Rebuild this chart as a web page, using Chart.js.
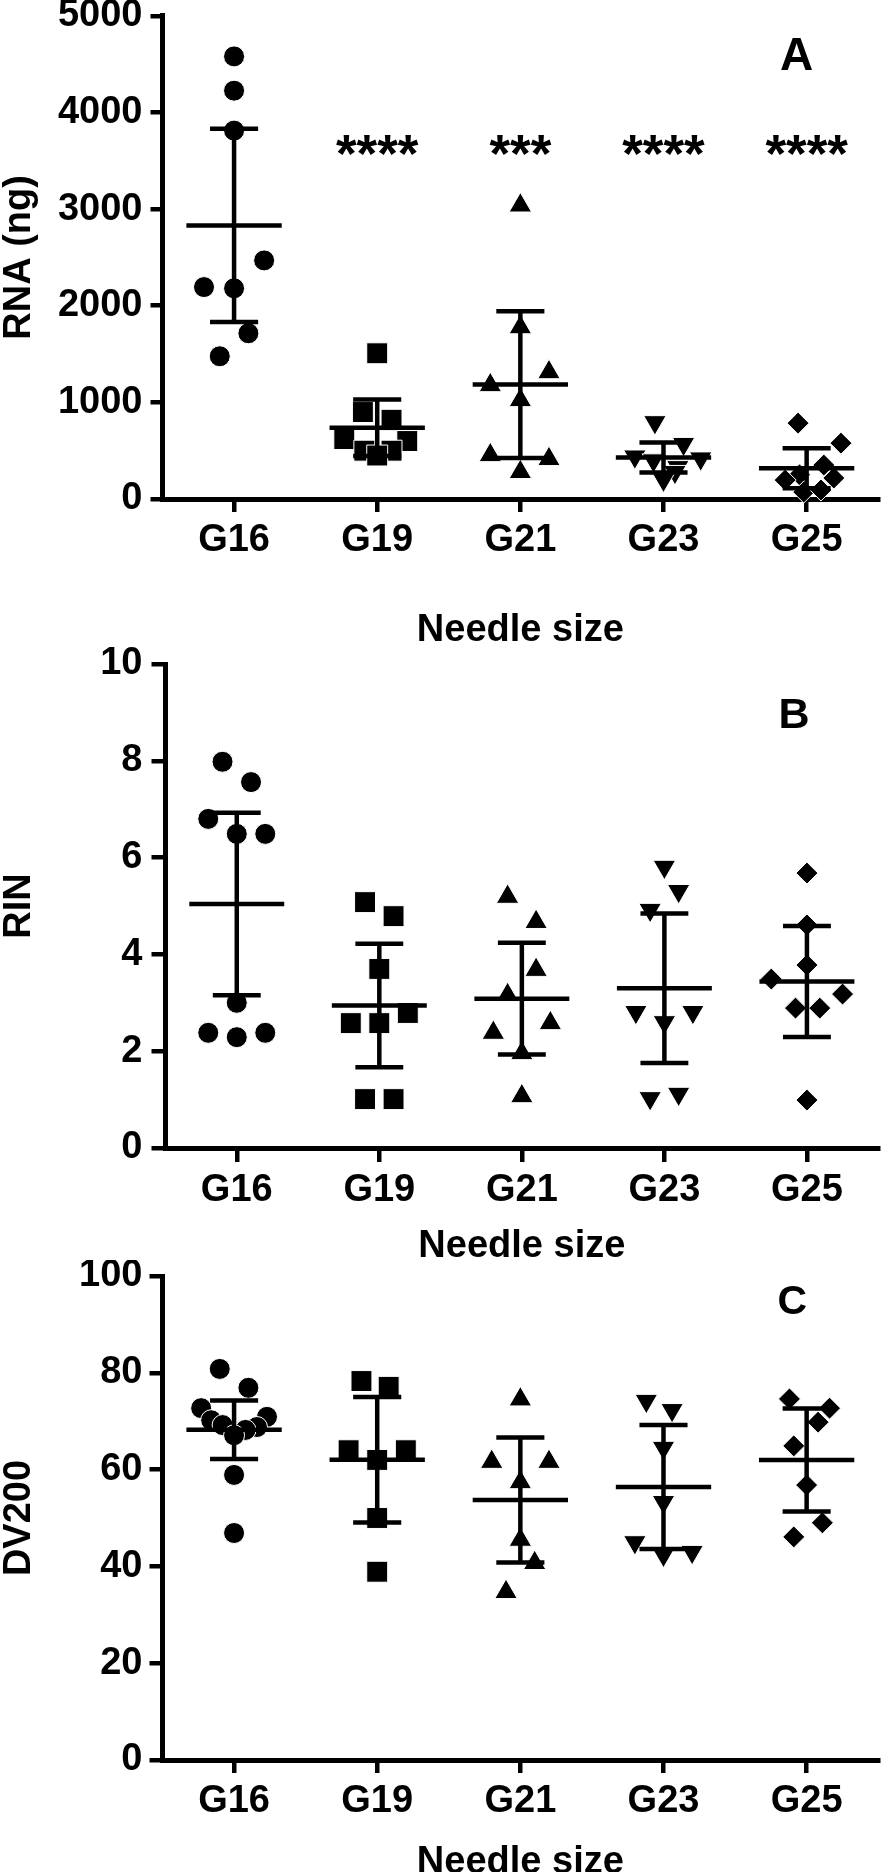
<!DOCTYPE html>
<html>
<head>
<meta charset="utf-8">
<script src="https://cdn.jsdelivr.net/npm/chart.js@4.4.1/dist/chart.umd.min.js"></script>
<style>
  html, body { margin:0; padding:0; background:#ffffff; width:894px; height:1872px; overflow:hidden; }
  .panel { position:absolute; left:0; }
</style>
</head>
<body>
<canvas id="chartA" class="panel" width="894" height="660" style="top:0px;width:894px;height:660px"></canvas>
<canvas id="chartB" class="panel" width="894" height="640" style="top:640px;width:894px;height:640px"></canvas>
<canvas id="chartC" class="panel" width="894" height="640" style="top:1260px;width:894px;height:640px"></canvas>
<script>
// ---------------- data ----------------
const categories = ['G16', 'G19', 'G21', 'G23', 'G25'];

// Panel A: RNA (ng)
const rnaG16 = [4580, 4225, 3812, 2469, 2193, 2180, 1715, 1477];
const rnaG19 = [1508, 900, 820, 620, 600, 500, 500, 450];
const rnaG21 = [3037, 1777, 1312, 1178, 1023, 454, 413, 279];
const rnaG23 = [795, 570, 440, 420, 400, 330, 280, 200];
const rnaG25 = [785, 578, 351, 250, 196, 217, 72, 93];
const rnaTicks = [0, 1000, 2000, 3000, 4000, 5000];
const rnaStars = ['', '****', '***', '****', '****'];
// horizontal scatter of the points inside each column (category units)
const rnaJitG16 = [0, 0, 0, 0.21, -0.21, 0, 0.1, -0.1];
const rnaJitG19 = [0, -0.1, 0.1, -0.23, 0.21, -0.09, 0.1, 0];
const rnaJitG21 = [0, 0, 0.2, -0.21, 0, -0.21, 0.2, 0];
const rnaJitG23 = [-0.06, 0.14, -0.2, 0.26, -0.07, 0.1, 0.08, 0];
const rnaJitG25 = [-0.06, 0.24, 0.12, -0.05, -0.15, 0.19, -0.02, 0.1];

// Panel B: RIN
const rinG16 = [7.98, 7.56, 6.80, 6.49, 6.49, 3.0, 2.38, 2.29, 2.38];
const rinG19 = [5.08, 4.79, 3.70, 2.58, 2.58, 2.79, 1.01, 1.01];
const rinG21 = [5.19, 4.67, 3.68, 3.16, 2.58, 2.38, 1.96, 1.07];
const rinG23 = [5.81, 5.31, 4.92, 2.81, 2.81, 2.60, 1.03, 1.12];
const rinG25 = [5.68, 4.61, 3.78, 3.49, 3.18, 2.89, 2.89, 0.99];
const rinTicks = [0, 2, 4, 6, 8, 10];
const rinJitG16 = [-0.1, 0.1, -0.2, 0, 0.2, 0, -0.2, 0, 0.2];
const rinJitG19 = [-0.1, 0.1, 0, -0.2, 0, 0.2, -0.1, 0.1];
const rinJitG21 = [-0.1, 0.1, 0.1, -0.1, 0.2, -0.2, 0, 0];
const rinJitG23 = [0, 0.1, -0.1, -0.2, 0.2, 0, -0.1, 0.1];
const rinJitG25 = [0, 0, 0, -0.25, 0.25, -0.08, 0.09, 0];

// Panel C: DV200
const dvG16 = [80.8, 76.9, 72.7, 70.9, 70.2, 69.2, 68.8, 68.2, 67.1, 58.9, 46.9];
const dvG19 = [78.3, 77.1, 64.0, 64.0, 62.0, 50.0, 38.9];
const dvG21 = [74.5, 61.6, 61.6, 57.4, 45.5, 40.7, 34.7];
const dvG23 = [74.2, 72.3, 64.5, 53.3, 45.0, 43.0, 42.4];
const dvG25 = [74.6, 72.7, 69.8, 64.9, 56.8, 49.0, 46.1];
const dvTicks = [0, 20, 40, 60, 80, 100];
const dvJitG16 = [-0.1, 0.1, -0.23, 0.23, -0.16, -0.08, 0.16, 0.08, 0, 0, 0];
const dvJitG19 = [-0.11, 0.08, -0.2, 0.2, 0, 0, 0];
const dvJitG21 = [0, -0.2, 0.2, 0, 0, 0.1, -0.1];
const dvJitG23 = [-0.12, 0.06, 0, 0, -0.2, 0.2, 0];
const dvJitG25 = [-0.12, 0.16, 0.08, -0.09, 0, 0.11, -0.09];

// ---------------- styling ----------------
const FONT = "'Liberation Sans', Arial, Helvetica, sans-serif";
Chart.defaults.font.family = FONT;
Chart.defaults.font.weight = 'bold';
Chart.defaults.color = '#000';

const markerStyles = ['circle', 'rect', 'triangle', 'triangle', 'rectRot'];
const markerRotations = [0, 0, 0, 180, 0];
const markerRadii = [10.5, 14.8, 13, 13, 11];

// two-sided 95% t critical values, index = degrees of freedom
const tCrit = [NaN, 12.706, 4.303, 3.182, 2.776, 2.571, 2.447, 2.365, 2.306, 2.262, 2.228, 2.201, 2.179, 2.160, 2.145, 2.131];

function meanCI(vals) {
  const n = vals.length;
  const m = vals.reduce((a, b) => a + b, 0) / n;
  const sd = Math.sqrt(vals.reduce((a, b) => a + (b - m) * (b - m), 0) / (n - 1));
  const hw = tCrit[n - 1] * sd / Math.sqrt(n);
  return { m, lo: m - hw, hi: m + hw };
}

function summaryPlugin(groups, labels) {
  return {
    id: 'meanCI',
    afterDatasetsDraw(chart) {
      const { ctx } = chart;
      const xs = chart.scales.x, ys = chart.scales.y;
      ctx.save();
      ctx.strokeStyle = '#000';
      ctx.lineWidth = 4.5;
      ctx.lineCap = 'butt';
      const seg = (x1, y1, x2, y2) => {
        ctx.beginPath();
        ctx.moveTo(xs.getPixelForValue(x1), ys.getPixelForValue(y1));
        ctx.lineTo(xs.getPixelForValue(x2), ys.getPixelForValue(y2));
        ctx.stroke();
      };
      groups.forEach((vals, i) => {
        const s = meanCI(vals);
        const c = i + 1;
        seg(c - 0.333, s.m, c + 0.333, s.m);
        seg(c, s.lo, c, s.hi);
        seg(c - 0.168, s.hi, c + 0.168, s.hi);
        seg(c - 0.168, s.lo, c + 0.168, s.lo);
      });
      ctx.fillStyle = '#000';
      ctx.textAlign = 'center';
      ctx.textBaseline = 'middle';
      labels.forEach(l => {
        if (!l.text) return;
        ctx.font = 'bold ' + l.size + 'px ' + FONT;
        ctx.fillText(l.text, xs.getPixelForValue(l.x), ys.getPixelForValue(l.y));
      });
      ctx.restore();
    }
  };
}

function buildPanel(id, cfg) {
  const datasets = cfg.groups.map((vals, i) => ({
    label: categories[i],
    data: vals.map((v, j) => ({ x: i + 1 + cfg.jitter[i][j], y: v })),
    pointStyle: markerStyles[i],
    pointRotation: markerRotations[i],
    pointRadius: markerRadii[i],
    pointHoverRadius: markerRadii[i],
    backgroundColor: '#000',
    borderColor: '#fff',
    borderWidth: 1,
    clip: false
  }));
  return new Chart(document.getElementById(id), {
    type: 'scatter',
    data: { datasets },
    options: {
      responsive: false,
      animation: false,
      events: [],
      layout: { padding: cfg.padding },
      plugins: { legend: { display: false }, tooltip: { enabled: false } },
      scales: {
        x: {
          type: 'linear', min: 0.5, max: 5.5,
          afterBuildTicks: s => { s.ticks = categories.map((_, i) => ({ value: i + 1 })); },
          afterFit: s => { s.height = cfg.xHeight; },
          ticks: {
            callback: v => categories[Math.round(v) - 1],
            font: { size: 38, weight: 'bold', lineHeight: 1.2 },
            color: '#000', padding: cfg.xTickPad, maxRotation: 0, autoSkip: false
          },
          grid: { drawOnChartArea: false, drawTicks: true, tickLength: cfg.xTickLen, lineWidth: 4.5, color: '#000' },
          border: { display: true, width: 5, color: '#000' },
          title: {
            display: true, text: 'Needle size', color: '#000',
            font: { size: 38, weight: 'bold', lineHeight: 1.2 },
            padding: { top: 0, bottom: cfg.xTitlePad }
          }
        },
        y: {
          type: 'linear', min: cfg.yTicks[0], max: cfg.yTicks[cfg.yTicks.length - 1],
          afterBuildTicks: s => { s.ticks = cfg.yTicks.map(v => ({ value: v })); },
          afterFit: s => { s.width = cfg.yWidth; },
          ticks: {
            callback: v => String(v),
            font: { size: 38, weight: 'bold', lineHeight: 0.3 },
            color: '#000', padding: cfg.yTickPad, autoSkip: false
          },
          grid: { drawOnChartArea: false, drawTicks: true, tickLength: cfg.yTickLen, lineWidth: 4.5, color: '#000' },
          border: { display: true, width: 5, color: '#000' },
          title: {
            display: true, text: cfg.yTitle, color: '#000',
            font: { size: 38, weight: 'bold', lineHeight: 1.2 },
            padding: { top: -3, bottom: 0 }
          }
        }
      }
    },
    plugins: [summaryPlugin(cfg.groups, cfg.labels)]
  });
}

// Panel A
buildPanel('chartA', {
  groups: [rnaG16, rnaG19, rnaG21, rnaG23, rnaG25],
  jitter: [rnaJitG16, rnaJitG19, rnaJitG21, rnaJitG23, rnaJitG25],
  yTicks: rnaTicks, yTitle: 'RNA (ng)',
  padding: { top: 15, left: 0, right: 6.5, bottom: 0 },
  yWidth: 162.5, xHeight: 161,
  xTickLen: 13, xTickPad: 6, xTitlePad: 7,
  yTickLen: 12, yTickPad: 8,
  labels: [{ text: 'A', x: 4.93, y: 4566, size: 46 }]
    .concat(rnaStars.map((t, i) => ({ text: t, x: i + 1, y: 3530, size: 53 })))
});

// Panel B
buildPanel('chartB', {
  groups: [rinG16, rinG19, rinG21, rinG23, rinG25],
  jitter: [rinJitG16, rinJitG19, rinJitG21, rinJitG23, rinJitG25],
  yTicks: rinTicks, yTitle: 'RIN',
  padding: { top: 24, left: 0, right: 2.5, bottom: 0 },
  yWidth: 165.5, xHeight: 132,
  xTickLen: 14, xTickPad: 6, xTitlePad: 11,
  yTickLen: 14, yTickPad: 9,
  labels: [{ text: 'B', x: 4.91, y: 8.93, size: 43 }]
});

// Panel C
buildPanel('chartC', {
  groups: [dvG16, dvG19, dvG21, dvG23, dvG25],
  jitter: [dvJitG16, dvJitG19, dvJitG21, dvJitG23, dvJitG25],
  yTicks: dvTicks, yTitle: 'DV200',
  padding: { top: 16, left: 0, right: 6.5, bottom: 0 },
  yWidth: 162.5, xHeight: 140,
  xTickLen: 13, xTickPad: 6, xTitlePad: 15,
  yTickLen: 13, yTickPad: 7,
  labels: [{ text: 'C', x: 4.9, y: 94.4, size: 41 }]
});
</script>
</body>
</html>
